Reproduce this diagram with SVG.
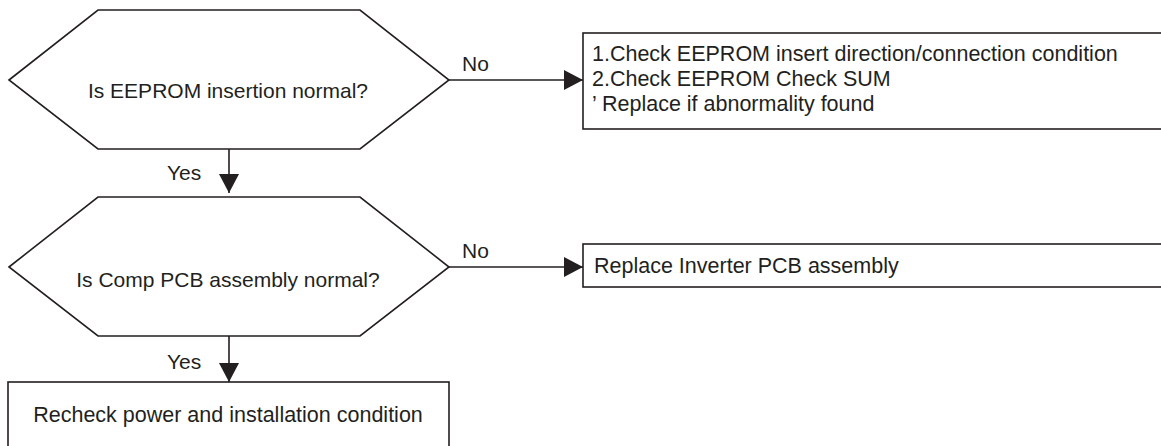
<svg xmlns="http://www.w3.org/2000/svg" width="1161" height="446" viewBox="0 0 1161 446">
<style>
.shape{fill:#fff;stroke:#231f20;stroke-width:1.6}
.line{stroke:#231f20;stroke-width:1.6;fill:none}
text{font-family:"Liberation Sans",Arial,sans-serif;font-size:21px;fill:#231f20}
.c{text-anchor:middle}
.b{font-size:21.5px}
</style>
<defs>
<marker id="ah" markerUnits="userSpaceOnUse" markerWidth="20" markerHeight="22" refX="19" refY="11" orient="auto">
<path d="M0,1 L19,11 L0,21 Z" fill="#231f20"/>
</marker>
</defs>
<g id="connectors">
<line class="line" x1="449" y1="80" x2="583" y2="80" marker-end="url(#ah)"/>
<text x="462" y="71">No</text>
<line class="line" x1="229" y1="149" x2="229" y2="193" marker-end="url(#ah)"/>
<text x="167" y="180">Yes</text>
<line class="line" x1="449" y1="267" x2="583" y2="267" marker-end="url(#ah)"/>
<text x="462" y="258">No</text>
<line class="line" x1="229" y1="336" x2="229" y2="382" marker-end="url(#ah)"/>
<text x="167" y="369">Yes</text>
</g>
<g id="q1">
<polygon class="shape" points="9,80 98,10 360,10 449,80 360,149 98,149"/>
<text class="c" x="228" y="98">Is EEPROM insertion normal?</text>
</g>
<g id="a1">
<rect class="shape" x="583" y="33" width="590" height="96"/>
<text class="b" x="592" y="61">1.Check EEPROM insert direction/connection condition</text>
<text class="b" x="592" y="86">2.Check EEPROM Check SUM</text>
<text class="b" x="592" y="111">’ Replace if abnormality found</text>
</g>
<g id="q2">
<polygon class="shape" points="9,267 98,197 360,197 449,267 360,336 98,336"/>
<text class="c" x="228" y="287">Is Comp PCB assembly normal?</text>
</g>
<g id="a2">
<rect class="shape" x="583" y="244" width="590" height="43"/>
<text class="b" x="594" y="273">Replace Inverter PCB assembly</text>
</g>
<g id="end">
<rect class="shape" x="8" y="382" width="441" height="70"/>
<text class="c b" x="228" y="422">Recheck power and installation condition</text>
</g>
</svg>
